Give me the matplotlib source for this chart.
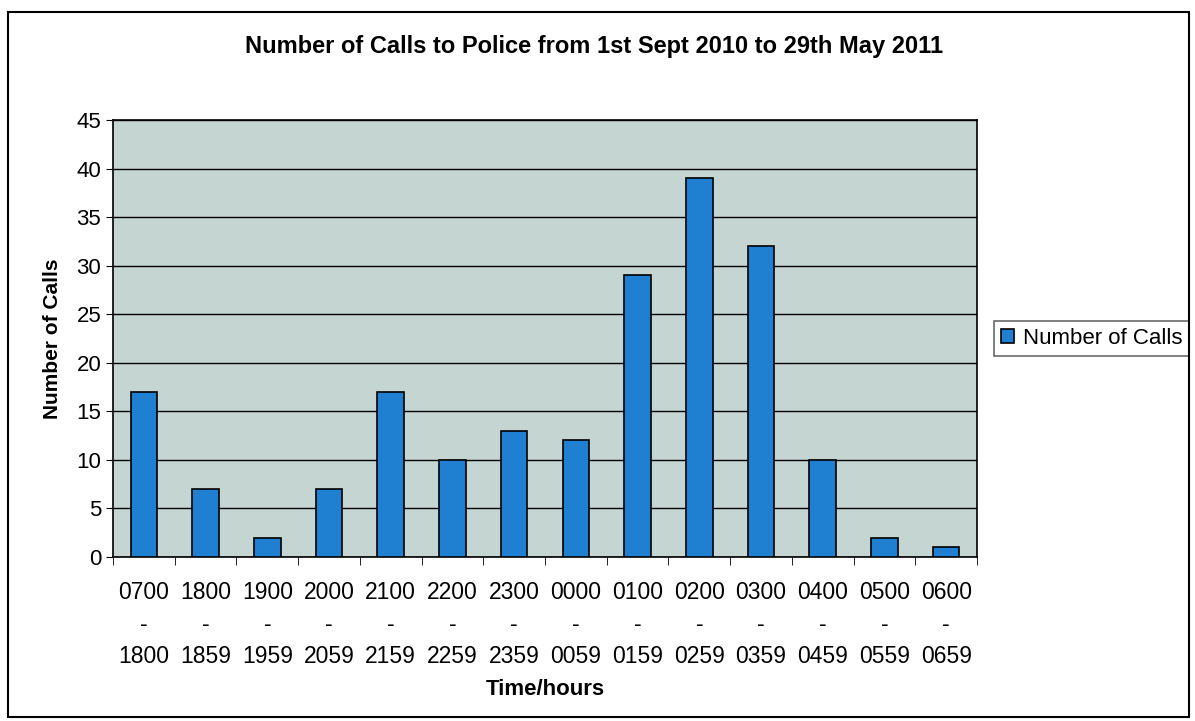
import matplotlib.pyplot as plt
from matplotlib.patches import Rectangle

plt.rcParams['font.family'] = ['Liberation Sans', 'DejaVu Sans']

# time bands and number of calls
start_times = ['0700', '1800', '1900', '2000', '2100', '2200', '2300',
               '0000', '0100', '0200', '0300', '0400', '0500', '0600']
end_times = ['1800', '1859', '1959', '2059', '2159', '2259', '2359',
             '0059', '0159', '0259', '0359', '0459', '0559', '0659']
calls = [17, 7, 2, 7, 17, 10, 13, 12, 29, 39, 32, 10, 2, 1]

tick_labels = [s + '\n-\n' + e for s, e in zip(start_times, end_times)]

fig = plt.figure(figsize=(11.95, 7.21), dpi=100)
ax = fig.add_axes([0.0946, 0.2275, 0.723, 0.606])
ax.set_facecolor('#c5d5d1')

x = list(range(len(calls)))
ax.bar(x, calls, width=0.43, color='#1f80d2', edgecolor='black', linewidth=1.2,
       label='Number of Calls', zorder=3)

ax.set_xlim(-0.5, len(calls) - 0.5)
ax.set_ylim(0, 45)
ax.set_yticks(range(0, 46, 5))
ax.yaxis.grid(True, color='black', linewidth=1.0, zorder=1)
ax.set_axisbelow(True)

# category labels centred, ticks on the boundaries (Excel style)
ax.set_xticks(x)
ax.set_xticklabels(tick_labels, fontsize=16.5, linespacing=1.5)
ax.tick_params(axis='x', length=0, pad=17)
ax.set_xticks([i - 0.5 for i in range(len(calls) + 1)], minor=True)
ax.tick_params(axis='x', which='minor', length=6, direction='out', color='black')
ax.tick_params(axis='y', labelsize=16, length=5, direction='out')

for s in ax.spines.values():
    s.set_color('black')
    s.set_linewidth(1.2)

ax.set_xlabel('Time/hours', fontsize=16, fontweight='bold', labelpad=8)
ax.set_ylabel('Number of Calls', fontsize=15, fontweight='bold', labelpad=10)
fig.text(0.497, 0.935, 'Number of Calls to Police from 1st Sept 2010 to 29th May 2011',
         ha='center', va='center', fontsize=17, fontweight='bold')

leg = ax.legend(loc='center left', bbox_to_anchor=(1.02, 0.5), fontsize=16,
                frameon=True, fancybox=False, handlelength=0.6, handleheight=0.6,
                handletextpad=0.4, borderpad=0.3, borderaxespad=0)
leg.get_frame().set_edgecolor('#444444')
leg.get_frame().set_linewidth(1.2)

# outer chart border
fig.patches.append(Rectangle((0.007, 0.006), 0.988, 0.978, transform=fig.transFigure,
                             fill=False, edgecolor='black', linewidth=1.5))

plt.savefig('out.png', dpi=100)
